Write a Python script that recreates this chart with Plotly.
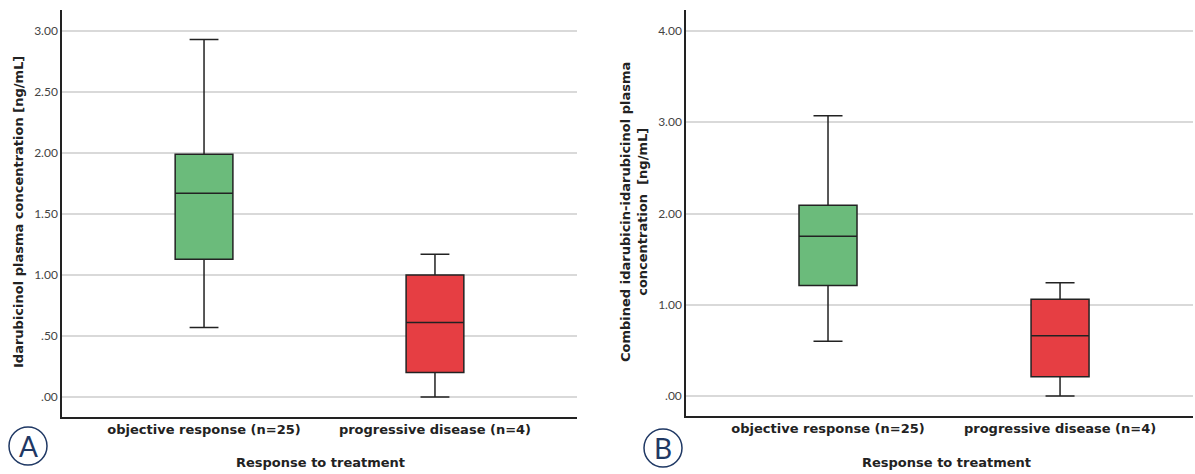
import plotly.graph_objects as go

categories = ["objective response (n=25)", "progressive disease (n=4)"]

# Panel A: idarubicinol plasma concentration [ng/mL]
a_lower = [0.57, 0.00]
a_q1 = [1.13, 0.20]
a_median = [1.67, 0.61]
a_q3 = [1.99, 1.00]
a_upper = [2.93, 1.17]

# Panel B: combined idarubicin-idarubicinol plasma concentration [ng/mL]
b_lower = [0.60, 0.00]
b_q1 = [1.21, 0.21]
b_median = [1.75, 0.66]
b_q3 = [2.09, 1.06]
b_upper = [3.07, 1.24]

colors = ["#6bbb7b", "#e63e43"]

a_ticks = [0, 0.5, 1.0, 1.5, 2.0, 2.5, 3.0]
a_ticktext = [".00", ".50", "1.00", "1.50", "2.00", "2.50", "3.00"]
b_ticks = [0, 1, 2, 3, 4]
b_ticktext = [".00", "1.00", "2.00", "3.00", "4.00"]

BOLD = "DejaVu Sans"
TICKF = "Lato"
fig = go.Figure()

for i, cat in enumerate(categories):
    fig.add_trace(go.Box(
        x=[cat], q1=[a_q1[i]], median=[a_median[i]], q3=[a_q3[i]],
        lowerfence=[a_lower[i]], upperfence=[a_upper[i]],
        fillcolor=colors[i], line=dict(color="#222222", width=1.5),
        width=0.25, whiskerwidth=0.5, boxpoints=False,
        xaxis="x", yaxis="y", showlegend=False, hoverinfo="skip"))
    fig.add_trace(go.Box(
        x=[cat], q1=[b_q1[i]], median=[b_median[i]], q3=[b_q3[i]],
        lowerfence=[b_lower[i]], upperfence=[b_upper[i]],
        fillcolor=colors[i], line=dict(color="#222222", width=1.5),
        width=0.25, whiskerwidth=0.5, boxpoints=False,
        xaxis="x2", yaxis="y2", showlegend=False, hoverinfo="skip"))

xcommon = dict(type="category", showgrid=False, showline=True, linecolor="#222222",
               linewidth=1.5, ticks="", zeroline=False,
               tickfont=dict(family=BOLD, size=13, color="#222222", weight="bold"),
               categoryorder="array", categoryarray=categories)
ycommon = dict(showgrid=True, gridcolor="#d9d9d9", gridwidth=1.5, showline=True,
               linecolor="#222222", linewidth=1.5, ticks="", zeroline=False,
               tickfont=dict(family=TICKF, size=12, color="#444444"), tickmode="array")

fig.update_layout(
    width=1195, height=474,
    margin=dict(l=0, r=0, t=0, b=0),
    paper_bgcolor="white", plot_bgcolor="white",
    showlegend=False,
    xaxis=dict(domain=[62/1195, 577/1195], range=[-0.615, 1.615], anchor="y", **xcommon),
    yaxis=dict(domain=[1-417/474, 1-10/474], range=[-0.164, 3.172], anchor="x",
               tickvals=a_ticks, ticktext=a_ticktext, **ycommon),
    xaxis2=dict(domain=[686/1195, 1193/1195], range=[-0.612, 1.573], anchor="y2", **xcommon),
    yaxis2=dict(domain=[1-416/474, 1-10/474], range=[-0.219, 4.23], anchor="x2",
                tickvals=b_ticks, ticktext=b_ticktext, **ycommon),
)

annots = [
    dict(text="Response to treatment", x=320/1195, y=1-462/474),
    dict(text="Response to treatment", x=946/1195, y=1-462/474),
    dict(text="Idarubicinol plasma concentration [ng/mL]", x=18/1195, y=1-212/474, textangle=-90),
    dict(text="Combined idarubicin-idarubicinol plasma<br>concentration  [ng/mL]", x=634/1195,
         y=1-212/474, textangle=-90),
]
for a in annots:
    fig.add_annotation(xref="paper", yref="paper", xanchor="center", yanchor="middle",
                       showarrow=False, font=dict(family=BOLD, size=13, color="#222222", weight="bold"),
                       **a)

for cx, cy, letter in [(28, 446, "A"), (663, 448, "B")]:
    r = 19
    fig.add_shape(type="circle", xref="paper", yref="paper",
                  x0=(cx-r)/1195, x1=(cx+r)/1195, y0=1-(cy+r)/474, y1=1-(cy-r)/474,
                  line=dict(color="#1f3864", width=1.5))
    fig.add_annotation(xref="paper", yref="paper", x=cx/1195, y=1-cy/474, text=letter,
                       showarrow=False, xanchor="center", yanchor="middle",
                       font=dict(family=TICKF, size=28, color="#1f3864"))

fig.write_html("out.html", config={"displayModeBar": False},
               post_script="document.body.style.margin='0';document.body.style.overflow='hidden';")
